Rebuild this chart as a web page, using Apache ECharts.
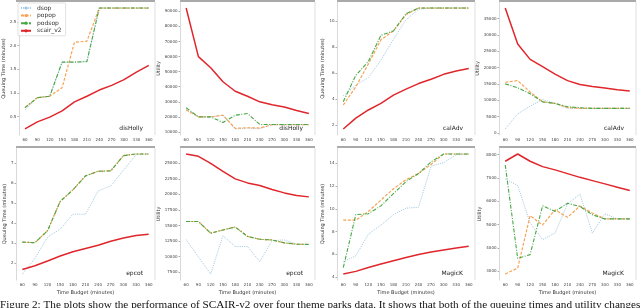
<!DOCTYPE html>
<html><head><meta charset="utf-8">
<script src="https://cdn.jsdelivr.net/npm/echarts@6/dist/echarts.min.js"></script>
<style>html,body{margin:0;padding:0;background:#fff}#c{width:640px;height:308px}</style>
</head><body><div id="c"></div>
<script>
const budgets = ['60','90','120','150','180','210','240','270','300','330','360'];
const seriesNames = ['dsop','popop','podsop','scair_v2'];

// disHolly queuing time
const disHollyQ_dsop   = [0.64,0.90,0.93,1.65,1.65,1.66,2.79,2.79,2.79,2.79,2.79];
const disHollyQ_popop  = [0.69,0.90,0.93,1.11,2.07,2.09,2.79,2.79,2.79,2.79,2.79];
const disHollyQ_podsop = [0.69,0.90,0.93,1.65,1.65,1.66,2.79,2.79,2.79,2.79,2.79];
const disHollyQ_scair  = [0.24,0.39,0.49,0.62,0.81,0.93,1.06,1.16,1.28,1.44,1.58];
const disHollyQ_ticks  = [0.5,1.0,1.5,2.0,2.5];
// disHolly utility
const disHollyU_dsop   = [24300,20000,20000,21100,12000,12600,12200,14800,14800,14800,14800];
const disHollyU_popop  = [24800,20000,20000,21100,12400,12800,12600,14800,14800,14800,14800];
const disHollyU_podsop = [26100,20000,20000,16300,21100,22200,15000,15000,15000,15000,15000];
const disHollyU_scair  = [92200,60000,52600,43300,37000,33700,30000,28000,26500,24300,22200];
const disHollyU_ticks  = [10000,20000,30000,40000,50000,60000,70000,80000,90000];
// calAdv queuing time
const calAdvQ_dsop   = [4.25,5.06,5.65,7.0,8.6,10.1,10.9,11.0,11.0,11.0,11.0];
const calAdvQ_popop  = [3.54,4.94,6.7,8.56,9.24,10.5,11.0,11.0,11.0,11.0,11.0];
const calAdvQ_podsop = [3.8,5.82,6.89,8.9,9.24,10.56,11.0,11.0,11.0,11.0,11.0];
const calAdvQ_scair  = [1.7,2.53,3.16,3.67,4.3,4.76,5.19,5.52,5.9,6.15,6.35];
const calAdvQ_ticks  = [2,4,6,8,10];
// calAdv utility
const calAdvU_dsop   = [1200,5800,8200,10200,9000,7500,7500,7500,7500,7500,7500];
const calAdvU_popop  = [15500,16000,12500,9500,9000,7800,7500,7500,7500,7500,7500];
const calAdvU_podsop = [15000,13800,12000,9500,9000,8000,7700,7500,7500,7500,7500];
const calAdvU_scair  = [38200,27200,22500,20300,18000,16000,14800,14200,13700,13200,12800];
const calAdvU_ticks  = [0,5000,10000,15000,20000,25000,30000,35000];
// epcot queuing time
const epcotQ_dsop   = [1.46,2.24,3.3,3.7,4.44,4.44,5.6,5.85,6.63,7.4,7.44];
const epcotQ_popop  = [3.05,3.02,3.62,5.08,5.65,6.35,6.58,6.6,7.36,7.44,7.44];
const epcotQ_podsop = [3.05,3.02,3.62,5.08,5.65,6.35,6.58,6.6,7.36,7.44,7.44];
const epcotQ_scair  = [1.68,1.87,2.11,2.36,2.57,2.73,2.89,3.09,3.25,3.38,3.44];
const epcotQ_ticks  = [2,3,4,5,6,7];
// epcot utility
const epcotU_dsop   = [12720,9950,7190,13350,11620,11620,9170,12560,12670,11990,11940];
const epcotU_popop  = [15640,15640,13760,14280,14750,13240,12770,12670,12200,11990,11940];
const epcotU_podsop = [15640,15640,13760,14280,14750,13240,12770,12670,12200,11990,11940];
const epcotU_scair  = [26500,26130,25000,23700,22500,21850,21440,20800,20240,19820,19600];
const epcotU_ticks  = [7500,10000,12500,15000,17500,20000,22500,25000];
// MagicK queuing time
const magicQ_dsop   = [5.34,5.86,7.77,8.57,9.49,10.06,10.14,13.77,14.06,14.77,14.77];
const magicQ_popop  = [9.0,9.0,9.77,10.77,11.77,12.57,13.11,13.91,14.83,14.83,14.83];
const magicQ_podsop = [4.83,9.49,9.57,10.26,11.34,12.4,13.11,14.14,14.83,14.83,14.83];
const magicQ_scair  = [4.26,4.49,4.83,5.14,5.43,5.71,5.97,6.2,6.37,6.54,6.71];
const magicQ_ticks  = [4,6,8,10,12,14];
// MagicK utility
const magicU_dsop   = [6960,6680,5080,4360,4640,5890,6310,4640,5470,5250,5250];
const magicU_popop  = [2890,3140,5390,4990,5640,5320,5800,5500,5250,5250,5250];
const magicU_podsop = [7560,3560,3720,5810,5570,5920,5780,5430,5250,5250,5250];
const magicU_scair  = [7720,8030,7720,7490,7350,7190,7030,6890,6750,6610,6470];
const magicU_ticks  = [3000,4000,5000,6000,7000,8000];

const caption = 'Figure 2: The plots show the performance of SCAIR-v2 over four theme parks data. It shows that both of the queuing times and utility changes';

const panels = [
  {park:'disHolly', y:'Queuing Time (minutes)', s:[disHollyQ_dsop,disHollyQ_popop,disHollyQ_podsop,disHollyQ_scair], t:disHollyQ_ticks, dec:1, gap:12},
  {park:'disHolly', y:'Utility', s:[disHollyU_dsop,disHollyU_popop,disHollyU_podsop,disHollyU_scair], t:disHollyU_ticks, dec:0, gap:17},
  {park:'calAdv', y:'Queuing Time (minutes)', s:[calAdvQ_dsop,calAdvQ_popop,calAdvQ_podsop,calAdvQ_scair], t:calAdvQ_ticks, dec:0, gap:12},
  {park:'calAdv', y:'Utility', s:[calAdvU_dsop,calAdvU_popop,calAdvU_podsop,calAdvU_scair], t:calAdvU_ticks, dec:0, gap:16},
  {park:'epcot', y:'Queuing Time (minutes)', s:[epcotQ_dsop,epcotQ_popop,epcotQ_podsop,epcotQ_scair], t:epcotQ_ticks, dec:0, gap:9},
  {park:'epcot', y:'Utility', s:[epcotU_dsop,epcotU_popop,epcotU_podsop,epcotU_scair], t:epcotU_ticks, dec:0, gap:17},
  {park:'MagicK', y:'Queuing Time (minutes)', s:[magicQ_dsop,magicQ_popop,magicQ_podsop,magicQ_scair], t:magicQ_ticks, dec:0, gap:11},
  {park:'MagicK', y:'Utility', s:[magicU_dsop,magicU_popop,magicU_podsop,magicU_scair], t:magicU_ticks, dec:0, gap:15}
];

const colLeft = [16,180,337,499];
const colRight = [155,315,475,636];
const rowTop = [2,148];
const rowBottom = [135,280];

const styles = [
  {color:'#9cc7e2', width:1, type:[1,1.2]},
  {color:'#f8a253', width:1.2, type:[3,1.6]},
  {color:'#45a844', width:1.1, type:[4,1.5,1,1.5]},
  {color:'#e0262b', width:1.5, type:'solid'}
];

const grid=[], xAxis=[], yAxis=[], series=[], graphic=[];
panels.forEach((p,i)=>{
  const r = Math.floor(i/4), c = i%4;
  grid.push({left:colLeft[c], top:rowTop[r], width:colRight[c]-colLeft[c], height:rowBottom[r]-rowTop[r], show:false});
  xAxis.push({type:'category', gridIndex:i, data:budgets, boundaryGap:true,
    axisLine:{show:false}, axisTick:{show:false},
    axisLabel:{fontSize:4, color:'#444', margin:3, interval:0, fontFamily:'DejaVu Sans'},
    name: r===1 ? 'Time Budget (minutes)' : '', nameLocation:'middle', nameGap:10,
    nameTextStyle:{fontSize:5, color:'#333', fontFamily:'DejaVu Sans'}});
  const all = [].concat(...p.s);
  const mn = Math.min(...all), mx = Math.max(...all), rg = mx-mn;
  yAxis.push({type:'value', gridIndex:i, min:mn-0.05*rg, max:mx+0.05*rg,
    splitLine:{show:false},
    axisLine:{show:true, lineStyle:{color:'#cfcfcf', width:0.8}},
    axisTick:{show:true, length:1.5, customValues:p.t, lineStyle:{color:'#555', width:0.5}},
    axisLabel:{fontSize:4, color:'#444', margin:2.5, customValues:p.t, fontFamily:'DejaVu Sans',
      formatter:v=>Number(v).toFixed(p.dec)},
    name:p.y, nameLocation:'middle', nameGap:p.gap, nameRotate:90,
    nameTextStyle:{fontSize:5, color:'#333', fontFamily:'DejaVu Sans'}});
  p.s.forEach((d,k)=>{
    series.push({type:'line', name:seriesNames[k], xAxisIndex:i, yAxisIndex:i, data:d,
      symbol:'none', silent:true, animation:false, z:2+k,
      lineStyle:{color:styles[k].color, width:styles[k].width, type:styles[k].type},
      itemStyle:{color:styles[k].color}});
  });
  graphic.push({type:'rect', shape:{x:colLeft[c], y:rowTop[r]-2, width:colRight[c]-colLeft[c], height:2}, style:{fill:'#a9a9a9'}, silent:true});
  graphic.push({type:'line', shape:{x1:colRight[c], y1:rowTop[r], x2:colRight[c], y2:rowBottom[r]}, style:{stroke:'#d6d6d6', lineWidth:0.8}, silent:true});
  graphic.push({type:'text', x:colRight[c]-12, y:r===0?128:273,
    style:{text:p.park, fontSize:6, fill:'#222', align:'right', verticalAlign:'middle', fontFamily:'DejaVu Sans'}, silent:true});
});
graphic.push({type:'text', x:0, y:299.5, z:100, style:{text:caption, fontSize:11.2, fill:'#111', fontFamily:'Liberation Serif', align:'left', verticalAlign:'top'}, silent:true});

const chart = echarts.init(document.getElementById('c'), null, {renderer:'canvas'});
chart.setOption({
  animation:false,
  backgroundColor:'#fff',
  grid, xAxis, yAxis, series, graphic,
  legend:{data:seriesNames, orient:'vertical', left:18, top:3, itemWidth:10, itemHeight:4, itemGap:1.6,
    padding:[2,4,2,2], borderColor:'#cccccc', borderWidth:0.6, borderRadius:1, backgroundColor:'rgba(255,255,255,0.9)',
    textStyle:{fontSize:6, color:'#333', fontFamily:'DejaVu Sans', padding:[0,0,0,1]}, selectedMode:false}
});
</script></body></html>
